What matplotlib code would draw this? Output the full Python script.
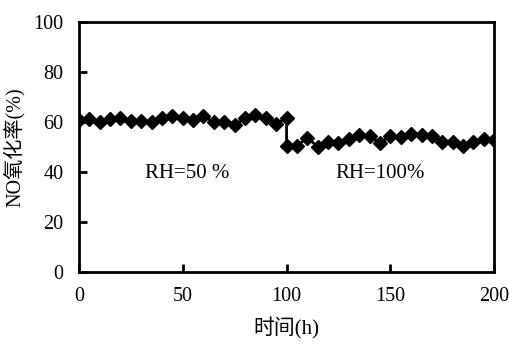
import matplotlib.pyplot as plt
import numpy as np

# 数据 (每5小时一个点)
t_rh50 = np.arange(0, 101, 5)
no_rh50 = [60.9, 61.2, 60.0, 61.1, 61.7, 60.3, 60.4, 59.9, 61.5, 62.4, 61.6,
           60.7, 62.4, 59.9, 60.2, 58.7, 61.6, 62.9, 61.7, 59.1, 61.7]
t_rh100 = np.arange(100, 201, 5)
no_rh100 = [50.5, 50.5, 53.7, 50.1, 52.2, 51.7, 53.4, 55.0, 54.4, 51.7, 54.4,
            54.1, 55.4, 55.0, 54.5, 52.2, 52.1, 50.5, 52.2, 53.4, 52.8]

x_ticks = [0, 50, 100, 150, 200]
y_ticks = [0, 20, 40, 60, 80, 100]

plt.rcParams['font.family'] = ['Liberation Serif', 'Noto Sans CJK SC']

fig = plt.figure(figsize=(5.09, 3.48), dpi=100)
ax = fig.add_axes([0.155, 0.218, 0.816, 0.719])

t_all = np.concatenate([t_rh50, t_rh100])
no_all = no_rh50 + no_rh100
ax.plot(t_all, no_all, color='black', linewidth=2, marker='D', markersize=7.5)

ax.text(52, 39.5, 'RH=50 %', fontsize=15, ha='center', va='center')
ax.text(145, 39.5, 'RH=100%', fontsize=15, ha='center', va='center')

ax.set_xlim(0, 200)
ax.set_ylim(0, 100)
ax.set_xticks(x_ticks)
ax.set_yticks(y_ticks)
ax.tick_params(direction='in', length=6, width=2, labelsize=14.5, pad=11,
               top=False, right=False)
for s in ax.spines.values():
    s.set_linewidth(2)

ax.set_xlabel('时间(h)', fontsize=15, labelpad=8)
ax.set_ylabel('NO氧化率(%)', fontsize=14.5, labelpad=6)

fig.savefig('out.png', dpi=100)
